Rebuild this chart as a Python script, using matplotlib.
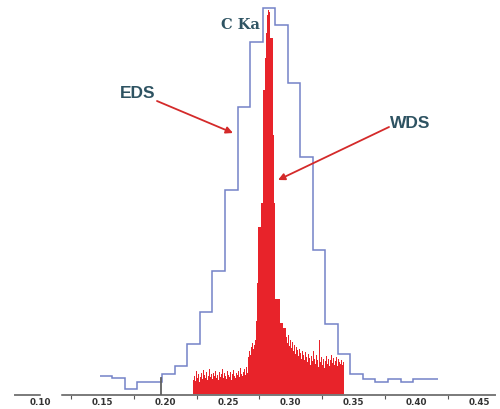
import numpy as np
import matplotlib.pyplot as plt
from matplotlib.ticker import MultipleLocator, FormatStrFormatter

# EDS spectrum: 0.01 keV channels, counts (arbitrary units)
eds_start = 0.1475
eds_width = 0.01
eds_counts = [19, 17, 6, 13, 13, 21, 29, 51, 83, 124, 205, 288, 353, 387,
              370, 312, 238, 145, 71, 41, 21, 16, 13, 16, 13, 16, 16]

# WDS spectrum: fine channels
wds_start = 0.2222
wds_width = 0.000797
wds_left = [15, 19, 14, 24, 17, 21, 13, 18, 22, 16, 25, 20, 17, 23, 15, 19, 26, 18,
            21, 16, 22, 19, 24, 17, 20, 15, 23, 18, 21, 26, 17, 22, 19, 16, 24, 20,
            18, 23, 15, 21, 25, 19, 17, 22, 20, 24, 18, 27, 21, 19, 23, 26, 20, 28, 22]
wds_rise = [38, 44, 40, 48, 52, 46, 50, 55]
wds_peak = [74, 112, 168, 168, 168, 192, 192, 305, 305, 337, 362, 380, 385, 383,
            357, 357, 357, 260, 192, 96, 96, 96, 96, 96, 72, 72, 72, 67, 67, 67]
wds_right = [58, 52, 60, 49, 55, 47, 53, 44, 50, 41, 48, 45, 39, 46, 42, 36, 44, 40,
             35, 43, 38, 33, 41, 37, 30, 39, 34, 44, 36, 31, 40, 35, 28, 55, 33, 38,
             30, 36, 27, 34, 39, 31, 36, 29, 35, 40, 32, 37, 30, 34, 38, 29, 36, 33,
             31, 35, 30, 33]
wds_counts = wds_left + wds_rise + wds_peak + wds_right

marker_energy = 0.1965
marker_height = 17

fig = plt.figure(figsize=(5.0, 4.09), dpi=100)
ax = fig.add_axes([0.03, 0.0342, 0.96, 0.9658])

# WDS bars
wds_x = wds_start + wds_width * np.arange(len(wds_counts))
ax.bar(wds_x, wds_counts, width=wds_width, align="edge", color="#e8232a",
       edgecolor="none", linewidth=0, zorder=2)

# EDS step histogram (open ends, no drop to baseline)
edges = eds_start + eds_width * np.arange(len(eds_counts) + 1)
ax.stairs(eds_counts, edges, baseline=None, color="#7482c8", linewidth=1.1,
          zorder=3)

ax.plot([marker_energy, marker_energy], [0, marker_height], color="#606060",
        linewidth=1.3, zorder=4)

ax.set_xlim(0.0801, 0.4628)
ax.set_ylim(0, 395)

for side in ["top", "right", "left"]:
    ax.spines[side].set_visible(False)
ax.spines["bottom"].set_color("#7a7a7a")
ax.spines["bottom"].set_linewidth(1.4)
ax.set_yticks([])

ax.xaxis.set_major_locator(MultipleLocator(0.05))
ax.xaxis.set_minor_locator(MultipleLocator(0.025))
ax.xaxis.set_major_formatter(FormatStrFormatter("%.2f"))
ax.tick_params(axis="x", which="major", length=0, pad=2.5, labelsize=6.3,
               labelcolor="#333333")
ax.tick_params(axis="x", which="minor", length=3, width=0.8, color="#555555")
for lbl in ax.get_xticklabels():
    lbl.set_fontweight("bold")

# gap in the axis line near 0.10
ax.plot([0.1017, 0.1152], [0, 0], color="white", linewidth=2.5, zorder=5,
        clip_on=False)

text_color = "#2e5362"
ax.text(0.2601, 370, "C Ka", fontsize=10.5, fontweight="bold", family="serif",
        color=text_color, ha="center", va="center")
ax.text(0.1782, 302, "EDS", fontsize=12.5, fontweight="bold",
        family="Liberation Sans", color=text_color, ha="center", va="center")
ax.text(0.3951, 272, "WDS", fontsize=12.5, fontweight="bold",
        family="Liberation Sans", color=text_color, ha="center", va="center")

arrow_style = dict(arrowstyle="-|>", color="#d42a2a", linewidth=1.3,
                   mutation_scale=10, shrinkA=0, shrinkB=0)
ax.annotate("", xy=(0.2539, 262), xytext=(0.1933, 294), arrowprops=arrow_style)
ax.annotate("", xy=(0.2898, 215), xytext=(0.3783, 268), arrowprops=arrow_style)

fig.savefig("out.png", dpi=100)
